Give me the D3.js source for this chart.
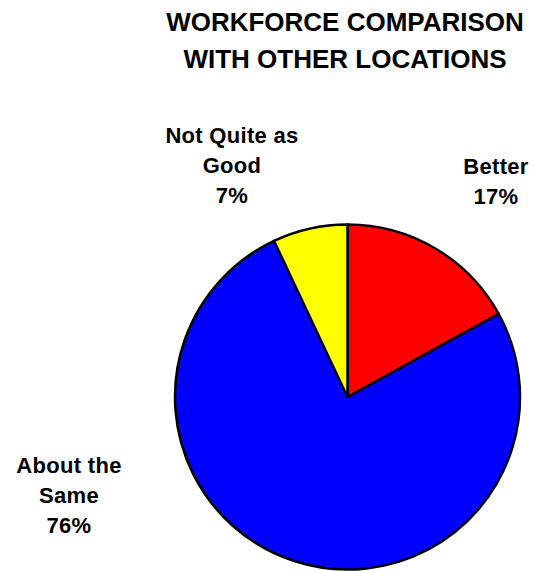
<!DOCTYPE html>
<html>
<head>
<meta charset="utf-8">
<script src="https://cdn.jsdelivr.net/npm/d3@7"></script>
<style>
  html, body { margin: 0; padding: 0; background: #ffffff; }
  svg text { font-family: "Liberation Sans", Arial, sans-serif; font-weight: bold; fill: #000000; }
</style>
</head>
<body>
<div id="area"></div>
<script>
// data
let categories = ['Better', 'About the Same', 'Not Quite as Good']
let values = [17, 76, 7]
let labelLines = [['Better'], ['About the', 'Same'], ['Not Quite as', 'Good']]
let colors = ['#FF0000', '#0000FF', '#FFFF00']
let titleLines = ['WORKFORCE COMPARISON', 'WITH OTHER LOCATIONS']

let width = 535
let height = 571
let cx = 347.5
let cy = 397
let radius = 172.5

// where each label block sits (center x, first baseline y)
let labelPos = [[496, 174], [69, 473], [232, 143]]
let lineGap = 30

let svg = d3.select('#area').append('svg')
  .attr('width', width)
  .attr('height', height)

// title
svg.append('g').selectAll('text')
  .data(titleLines)
  .enter().append('text')
  .attr('x', 345)
  .attr('y', (d, i) => 31 + i * 37)
  .attr('text-anchor', 'middle')
  .attr('font-size', '26px')
  .text(d => d)

// pie, clockwise from 12 o'clock
let pie = d3.pie().sort(null).value(d => d)
let arc = d3.arc().innerRadius(0).outerRadius(radius)

let slices = svg.append('g')
  .attr('transform', 'translate(' + cx + ',' + cy + ')')

slices.selectAll('path')
  .data(pie(values))
  .enter().append('path')
  .attr('d', arc)
  .attr('fill', (d, i) => colors[i])
  .attr('stroke', '#000000')
  .attr('stroke-width', 2.5)
  .attr('stroke-linejoin', 'round')

// labels
let labels = svg.append('g')
categories.forEach(function(c, i) {
  let lines = labelLines[i].concat([values[i] + '%'])
  labels.append('text')
    .attr('text-anchor', 'middle')
    .attr('font-size', '22px')
    .attr('letter-spacing', '0.3px')
    .selectAll('tspan')
    .data(lines)
    .enter().append('tspan')
    .attr('x', labelPos[i][0])
    .attr('y', (d, j) => labelPos[i][1] + j * lineGap)
    .text(d => d)
})
</script>
</body>
</html>
